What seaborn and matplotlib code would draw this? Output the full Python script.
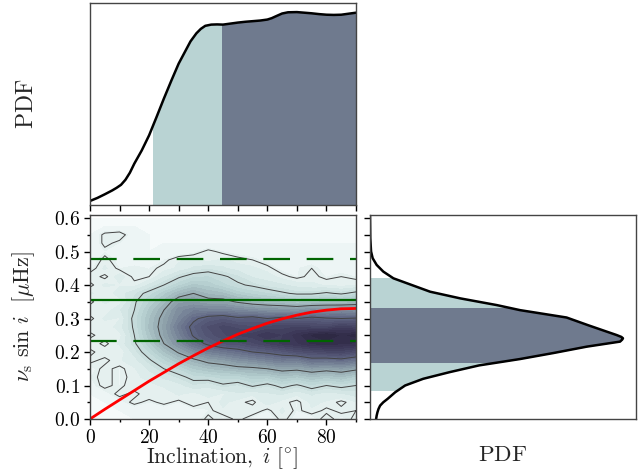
import numpy as np
import pandas as pd
import seaborn as sns
import matplotlib
matplotlib.use("Agg")
import matplotlib.pyplot as plt
from matplotlib.colors import PowerNorm
from matplotlib.patches import Rectangle
from matplotlib.ticker import MultipleLocator, NullLocator

incl_grid = np.arange(0, 95, 5)
vs_grid = np.arange(0, 25) * 0.025
density_rows = [
 [0,0,0,0,1,1,1,1,5,2,5,2,1,5,2,1,6,2,5],
 [0,0,0,1,2,1,3,2,3,6,4,6,3,7,3,6,3,5,4],
 [0,0,2,5,3,5,3,6,4,7,5,3,8,5,3,7,6,3,6],
 [0,2,5,3,6,4,7,5,8,6,9,7,9,10,7,10,8,9,11],
 [2,5,3,6,5,7,8,12,10,14,12,16,13,17,14,18,15,17,15],
 [3,5,3,5,8,10,13,17,18,20,20,24,23,27,25,28,26,28,24],
 [2,5,3,6,10,15,19,25,28,30,32,33,35,38,37,40,38,40,37],
 [5,3,6,8,14,21,28,33,38,40,44,46,49,52,50,56,55,57,53],
 [3,6,4,11,19,28,36,44,50,53,56,60,62,65,69,71,73,74,70],
 [6,3,7,14,24,35,45,55,62,67,68,72,76,80,82,86,87,86,85],
 [3,6,5,15,27,38,49,61,68,72,76,78,82,79,84,89,92,88,90],
 [6,4,8,16,29,39,52,63,70,74,72,70,74,75,76,74,73,78,75],
 [3,7,6,17,28,38,48,58,64,66,62,64,60,63,60,63,61,60,61],
 [6,4,9,15,26,35,46,50,49,49,47,45,44,43,42,45,44,46,43],
 [3,7,5,14,22,30,40,41,38,38,34,31,29,28,26,27,29,28,31],
 [7,4,8,12,17,24,31,35,31,29,24,21,19,16,14,14,16,14,17],
 [3,7,6,5,10,15,21,26,24,20,16,14,11,10,8,7,6,5,6],
 [6,3,8,3,4,9,14,18,19,16,13,9,8,5,3,5,3,4,3],
 [2,7,3,4,3,5,7,10,12,10,8,7,5,2,3,4,2,2,2],
 [1,5,2,1,2,3,6,7,5,7,5,4,2,3,2,2,1,1,1],
 [0,3,1,1,0,1,1,2,5,3,2,1,1,1,1,1,1,1,1],
 [0,5,3,1,0,0,0,0,0,0,0,0,0,0,0,0,0,0,0],
 [0,5,6,1,0,0,0,0,0,0,0,0,0,0,0,0,0,0,0],
 [0,0,0,0,0,0,0,0,0,0,0,0,0,0,0,0,0,0,0],
 [0,0,0,0,0,0,0,0,0,0,0,0,0,0,0,0,0,0,0],
]

incl_pdf_x = [0, 2.5, 5, 7.5, 9, 10.5, 12, 13.5, 15, 17.5, 20, 22.5, 25, 27.5, 30, 32, 34, 36, 37.5, 39, 41, 43, 45,
              47.5, 50, 52.5, 55, 57.5, 60, 61.5, 63, 65, 67, 70, 72.5, 75, 77.5, 80, 82.5, 85, 87.5, 90]
incl_pdf_y = [.02, .035, .053, .072, .085, .10, .125, .16, .205, .27, .345, .435, .527, .615, .70, .755, .81, .85, .872, .887, .893, .894, .893,
              .898, .903, .907, .91, .913, .918, .925, .935, .948, .954, .955, .952, .949, .945, .942, .941, .942, .947, .952]
incl_light = (21.3, 44.6)
incl_dark = (44.6, 90)

vs_pdf_y = [0, .01, .02, .03, .04, .05, .06, .08, .10, .12, .14, .16, .179, .197, .216, .231, .237, .241, .245, .2507, .26, .28, .303, .325, .34, .36,
            .38, .40, .42, .44, .46, .48, .50, .54, .609]
vs_pdf_x = [.023, .025, .028, .032, .038, .05, .066, .095, .132, .20, .30, .41, .564, .69, .815, .94, .948, .951, .945, .927, .893, .82, .739, .564, .477, .34,
            .226, .157, .088, .05, .025, .01, .004, .001, 0]
vs_light = (0.087, 0.42)
vs_dark = (0.17, 0.33)

red_i = list(range(0, 95, 5))
red_vs = [0, .029, .057, .085, .113, .139, .165, .189, .212, .233, .253, .270, .286, .299, .310, .319, .325, .329, .330]
green_solid = 0.355
green_dashed = [0.478, 0.233]

sns.set_style("ticks")
plt.rcParams.update({
    "font.family": "serif", "font.serif": ["cmr10"], "mathtext.fontset": "cm",
    "axes.formatter.use_mathtext": True, "axes.unicode_minus": False,
    "axes.edgecolor": "#444444", "axes.linewidth": 1.0,
    "xtick.color": "black", "ytick.color": "black",
    "xtick.direction": "out", "ytick.direction": "out",
    "lines.solid_joinstyle": "round",
})

LIGHT = "#b9d3d3"
DARK = "#6f7a8e"
cmap = sns.blend_palette(["#f5fafa", "#dcebea", "#b9d3d3", "#8c9fa9", "#5f6583", "#3a3555", "#15101f"], n_colors=256, as_cmap=True)

W, H = 644, 470
fig = plt.figure(figsize=(W / 100, H / 100), dpi=100)
def axpx(l, t, r, b):
    return fig.add_axes([l / W, 1 - b / H, (r - l) / W, (b - t) / H])
ax_top = axpx(90, 3, 356, 205)
ax_main = axpx(90, 215, 356, 419)
ax_right = axpx(370, 215, 636, 419)

# top marginal
df_i = pd.DataFrame({"i": incl_pdf_x, "pdf": incl_pdf_y})
for (a, b), c in ((incl_light, LIGHT), (incl_dark, DARK)):
    poly = ax_top.fill_between(df_i["i"], df_i["pdf"], color=c, lw=0)
    poly.set_clip_path(Rectangle((a, 0), b - a, 2, transform=ax_top.transData))
sns.lineplot(data=df_i, x="i", y="pdf", ax=ax_top, color="black", lw=1.8, errorbar=None)
ax_top.set_xlim(0, 90)
ax_top.set_ylim(0, 1)
ax_top.set_xlabel("")
ax_top.set_ylabel(r"$\mathrm{PDF}$", fontsize=17)
ax_top.yaxis.set_label_coords((38 - 90) / 266, 0.5)
ax_top.xaxis.set_major_locator(MultipleLocator(10))
ax_top.yaxis.set_major_locator(NullLocator())
ax_top.tick_params(axis="x", labelbottom=False, length=4, width=1)

# main panel
Z = np.array(density_rows, dtype=float)
ax_main.contourf(incl_grid, vs_grid, Z, levels=np.linspace(0, 92, 30), cmap=cmap,
                 norm=PowerNorm(0.7, vmin=0, vmax=108), extend="both")
ax_main.contour(incl_grid, vs_grid, Z, levels=[4, 15, 35, 60], colors="#444444", linewidths=0.7)
sns.lineplot(x=red_i, y=red_vs, ax=ax_main, color="red", lw=2, errorbar=None)
ax_main.axhline(green_solid, color="darkgreen", lw=1.6)
for g in green_dashed:
    ax_main.axhline(g, color="darkgreen", lw=1.6, dashes=(12, 7.5))
ax_main.set_xlim(0, 90)
ax_main.set_ylim(0, 0.609)
ax_main.xaxis.set_major_locator(MultipleLocator(20))
ax_main.xaxis.set_minor_locator(MultipleLocator(10))
ax_main.yaxis.set_major_locator(MultipleLocator(0.1))
ax_main.yaxis.set_minor_locator(MultipleLocator(0.05))
ax_main.tick_params(which="major", length=4, width=1, labelsize=14, pad=3)
ax_main.tick_params(which="minor", length=2.5, width=1)
ax_main.set_xlabel(r"$\mathrm{Inclination,}\ i\ [^{\circ}]$", fontsize=15.5)
ax_main.xaxis.set_label_coords((222 - 90) / 266, -(445 - 419) / 204)
ax_main.set_ylabel(r"$\nu_{\mathrm{s}}\ \sin\,i\ \ [\mu\mathrm{Hz}]$", fontsize=16)
ax_main.yaxis.set_label_coords((37 - 90) / 266, 0.5)

# right marginal
df_v = pd.DataFrame({"v": vs_pdf_y, "pdf": vs_pdf_x})
for (a, b), c in ((vs_light, LIGHT), (vs_dark, DARK)):
    poly = ax_right.fill_betweenx(df_v["v"], df_v["pdf"], color=c, lw=0)
    poly.set_clip_path(Rectangle((0, a), 2, b - a, transform=ax_right.transData))
sns.lineplot(data=df_v, x="pdf", y="v", ax=ax_right, color="black", lw=1.8, errorbar=None, orient="y", sort=False)
ax_right.set_xlim(0, 1)
ax_right.set_ylim(0, 0.609)
ax_right.xaxis.set_major_locator(NullLocator())
ax_right.yaxis.set_major_locator(MultipleLocator(0.1))
ax_right.yaxis.set_minor_locator(MultipleLocator(0.05))
ax_right.tick_params(which="major", length=4, width=1, labelleft=False)
ax_right.tick_params(which="minor", length=4, width=1)
ax_right.set_ylabel("")
ax_right.set_xlabel(r"$\mathrm{PDF}$", fontsize=16.5)
ax_right.xaxis.set_label_coords(0.5, -(445 - 419) / 204)

fig.savefig("out.png", dpi=100)
